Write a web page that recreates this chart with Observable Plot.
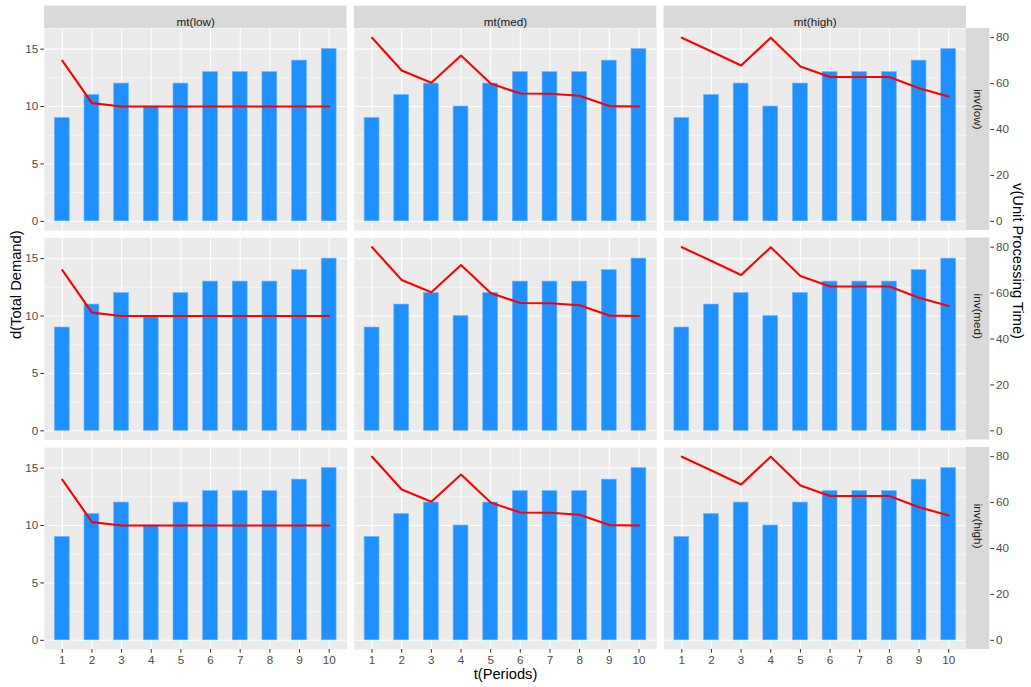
<!DOCTYPE html>
<html>
<head>
<meta charset="utf-8">
<script src="https://cdn.jsdelivr.net/npm/d3@7"></script>
<script src="https://cdn.jsdelivr.net/npm/@observablehq/plot@0.6"></script>
<style>
  html, body { margin: 0; padding: 0; background: white; }
  #chart { width: 1031px; height: 687px; }
</style>
</head>
<body>
<div id="chart"></div>
<script>
// ---- data ----
const periods = [1, 2, 3, 4, 5, 6, 7, 8, 9, 10];
const demand = [9, 11, 12, 10, 12, 13, 13, 13, 14, 15];
const mtLevels = ["mt(low)", "mt(med)", "mt(high)"];
const invLevels = ["inv(low)", "inv(med)", "inv(high)"];
const vLow = [70, 51.5, 50, 50, 50, 50, 50, 50, 50, 50];
const vMed = [80, 65.7, 60.4, 72.2, 60, 55.7, 55.6, 54.7, 50.2, 50];
const vHigh = [80, 74, 67.9, 80, 67.4, 62.9, 62.9, 62.9, 58, 54.4];
const demandTicks = [0, 5, 10, 15];
const demandMinor = [2.5, 7.5, 12.5];
const vTicks = [0, 20, 40, 60, 80];
const secScale = 5; // v = secScale * d (secondary axis)

const vByMt = {"mt(low)": vLow, "mt(med)": vMed, "mt(high)": vHigh};
const rows = [];
for (const inv of invLevels)
  for (const mt of mtLevels)
    periods.forEach((t, i) => rows.push({inv, mt, t, d: demand[i], v: vByMt[mt][i]}));

// ---- layout ----
const W = 1031, H = 687;
const mL = 44, mR = 65, mT = 28, mB = 38;
const padX = 0.0235, padY = 0.0358;
const bwX = (W - mL - mR) / (3 - padX) * (1 - padX);
const bwY = (H - mT - mB) / (3 - padY) * (1 - padY);
const stripH = 22.3, stripW = 23.3;
const font = "'Liberation Sans', Arial, sans-serif";

const chart = Plot.plot({
  width: W, height: H,
  marginLeft: mL, marginRight: mR, marginTop: mT, marginBottom: mB,
  style: {fontFamily: font, fontSize: "11.7px", background: "white", overflow: "visible"},
  x: {type: "linear", domain: [0.4, 10.6]},
  y: {type: "linear", domain: [-0.8, 16.8]},
  fx: {domain: mtLevels, paddingInner: padX, paddingOuter: 0, round: false, axis: null},
  fy: {domain: invLevels, paddingInner: padY, paddingOuter: 0, round: false, axis: null},
  marks: [
    Plot.frame({fill: "#EBEBEB", stroke: "none"}),
    Plot.gridY(demandMinor, {stroke: "white", strokeOpacity: 1, strokeWidth: 0.55}),
    Plot.gridY(demandTicks, {stroke: "white", strokeOpacity: 1, strokeWidth: 1.07}),
    Plot.gridX(periods, {stroke: "white", strokeOpacity: 1, strokeWidth: 1.07}),
    Plot.rectY(rows, {
      fx: "mt", fy: "inv",
      x1: d => d.t - 0.25, x2: d => d.t + 0.25, y: "d",
      fill: "#1E90FF", stroke: "#6AB3FF", strokeWidth: 0.6
    }),
    Plot.line(rows, {
      fx: "mt", fy: "inv", x: "t", y: d => d.v / secScale,
      stroke: "red", strokeWidth: 2.1
    }),
    // strips (top)
    Plot.rect(mtLevels, {fx: d => d, fy: () => invLevels[0], fill: "#D9D9D9",
      insetTop: -stripH, insetBottom: bwY}),
    Plot.text(mtLevels, {fx: d => d, fy: () => invLevels[0], text: d => d,
      frameAnchor: "top", dy: -stripH / 2, fill: "#1A1A1A", fontSize: 11.7}),
    // strips (right)
    Plot.rect(invLevels, {fy: d => d, fx: () => mtLevels[2], fill: "#D9D9D9",
      insetLeft: bwX, insetRight: -stripW}),
    Plot.text(invLevels, {fy: d => d, fx: () => mtLevels[2], text: d => d,
      frameAnchor: "right", dx: stripW / 2, rotate: 90, fill: "#1A1A1A", fontSize: 11.7}),
    // axes
    Plot.axisX(periods, {anchor: "bottom", tickSize: 3.7, tickPadding: 2.6,
      stroke: "#333333", fill: "#4D4D4D", fontSize: 11.7, label: null}),
    Plot.axisY(demandTicks, {anchor: "left", tickSize: 3.7, tickPadding: 2.6,
      stroke: "#333333", fill: "#4D4D4D", fontSize: 11.7, label: null}),
    Plot.axisY(vTicks.map(v => v / secScale), {anchor: "right", dx: stripW,
      tickSize: 3.7, tickPadding: 2.6, tickFormat: d => Math.round(d * secScale),
      stroke: "#333333", fill: "#4D4D4D", fontSize: 11.7, label: null}),
    // axis titles
    Plot.text(["d(Total Demand)"], {facet: "super", text: d => d, frameAnchor: "left",
      dx: -(mL - 15.5), rotate: -90, fontSize: 14.7, fill: "black"}),
    Plot.text(["v(Unit Processing Time)"], {facet: "super", text: d => d, frameAnchor: "right",
      dx: 51.7, rotate: 90, fontSize: 14.7, fill: "black"}),
    Plot.text(["t(Periods)"], {facet: "super", text: d => d, frameAnchor: "bottom",
      dy: 29, fontSize: 14.7, fill: "black"})
  ]
});
document.getElementById("chart").appendChild(chart);
</script>
</body>
</html>
